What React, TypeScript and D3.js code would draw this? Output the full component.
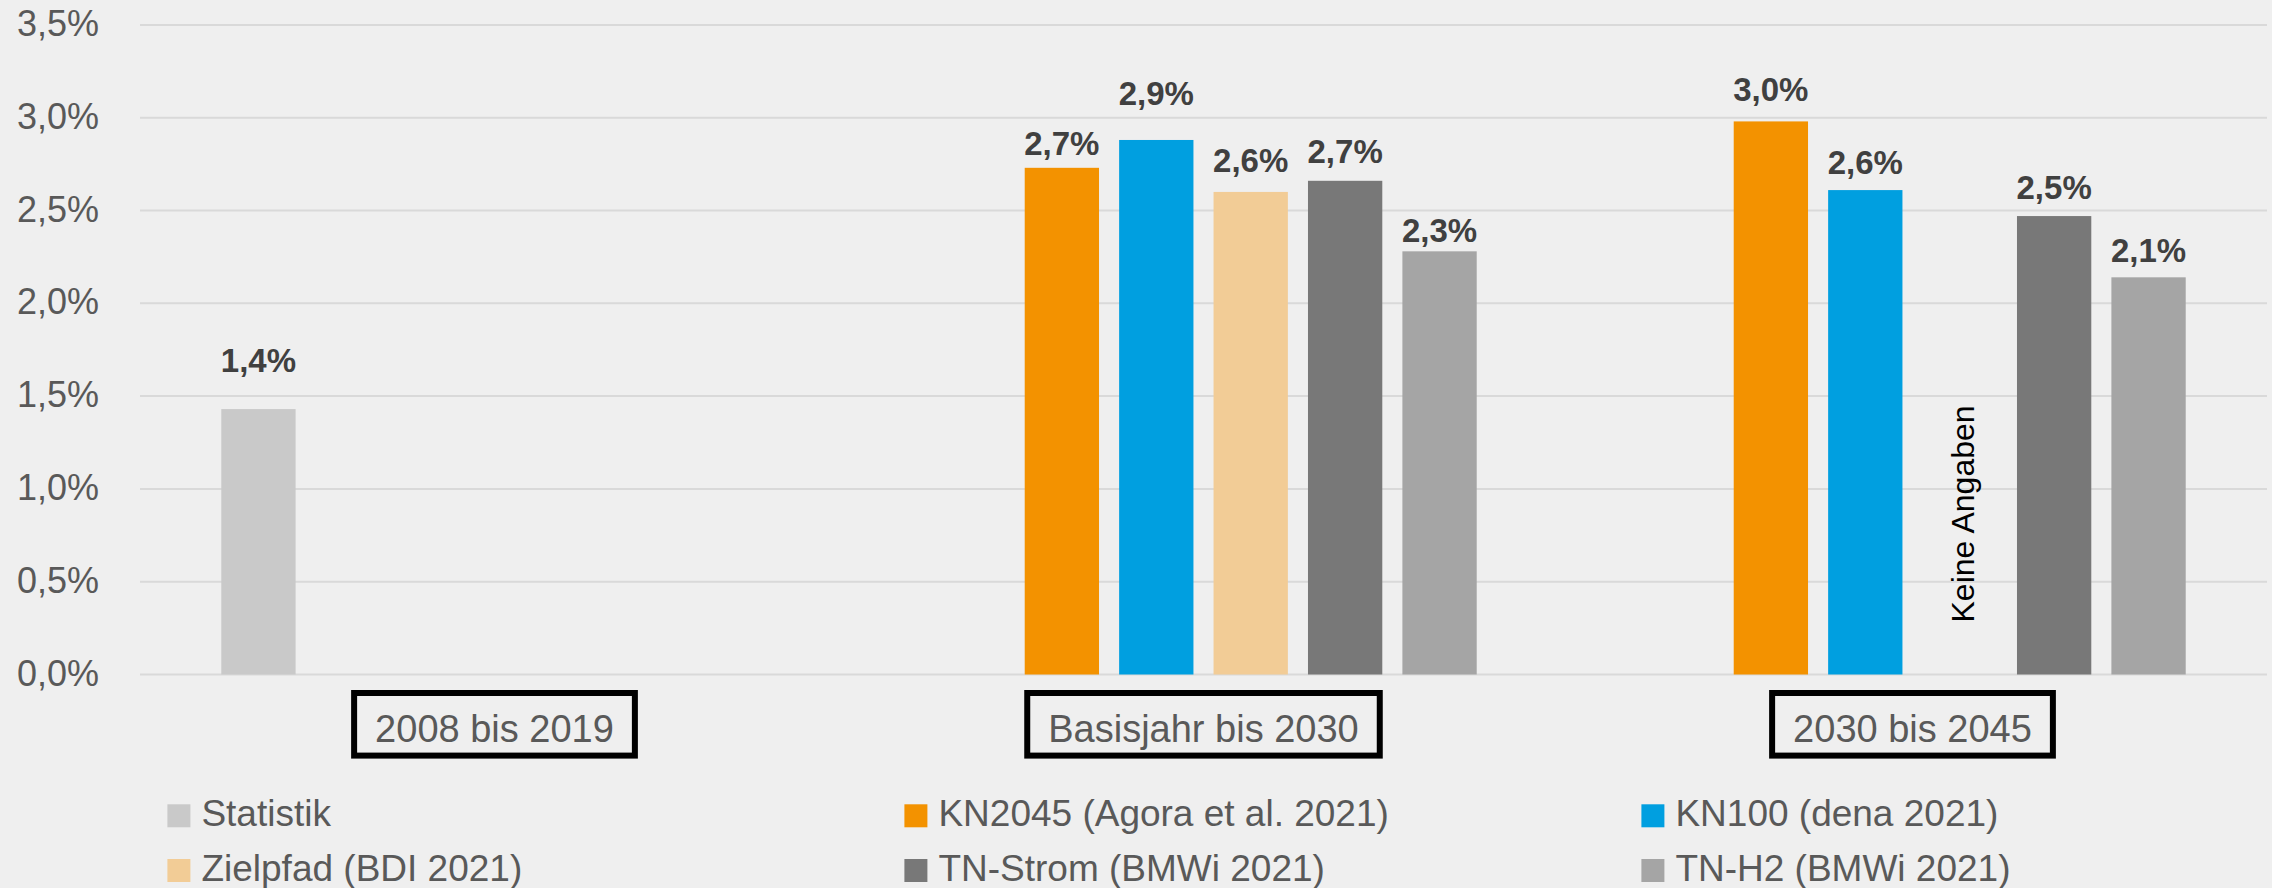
import React, { useEffect, useRef } from 'react'
import * as d3 from 'd3'

// data
const categories = ['2008 bis 2019', 'Basisjahr bis 2030', '2030 bis 2045']
const seriesNames = [
  'Statistik',
  'KN2045 (Agora et al. 2021)',
  'KN100 (dena 2021)',
  'Zielpfad (BDI 2021)',
  'TN-Strom (BMWi 2021)',
  'TN-H2 (BMWi 2021)',
]
const seriesColors = ['#C9C9C9', '#F39200', '#009FE0', '#F2CC96', '#787878', '#A5A5A5']
const statistik = [1.43, null, null]
const kn2045 = [null, 2.73, 2.98]
const kn100 = [null, 2.88, 2.61]
const zielpfad = [null, 2.6, null]
const tnStrom = [null, 2.66, 2.47]
const tnH2 = [null, 2.28, 2.14]
const yTicks = [0, 0.5, 1, 1.5, 2, 2.5, 3, 3.5]
// slots annotated as "no data" (category, series)
const missingNotes = [['2030 bis 2045', 'Zielpfad (BDI 2021)']]
const missingText = 'Keine Angaben'

const seriesValues = [statistik, kn2045, kn100, zielpfad, tnStrom, tnH2]
// label lift above bar top (px), labels were placed by hand in the original
const labelLift = [
  [37, 0, 0],
  [0, 12.5, 20],
  [0, 35, 16],
  [0, 19.7, 0],
  [0, 18, 17.4],
  [0, 9.4, 15.6],
]

const W = 2272
const H = 888
const FONT = "'Liberation Sans', Arial, sans-serif"

const App = () => {
  const chartRef = useRef(null)

  useEffect(() => {
    const svg = d3.select(chartRef.current)
    svg.selectAll('*').remove()
    svg.append('rect').attr('width', W).attr('height', H).attr('fill', '#EFEFEF')

    const yScale = d3.scaleLinear().domain([0, 3.5]).range([674.5, 24.9])
    const x0 = d3.scaleBand().domain(categories).range([140, 2267]).padding(0)
    const x1 = d3
      .scaleBand()
      .domain(seriesNames)
      .range([0, x0.bandwidth()])
      .paddingInner(0.213)
      .paddingOuter(0.861)
    const fmt = (v) => d3.format('.1f')(v).replace('.', ',') + '%'

    // grid + y ticks
    const grid = svg.append('g')
    grid
      .selectAll('line')
      .data(yTicks)
      .join('line')
      .attr('x1', 140)
      .attr('x2', 2267)
      .attr('y1', (d) => yScale(d))
      .attr('y2', (d) => yScale(d))
      .attr('stroke', '#D9D9D9')
      .attr('stroke-width', 2)
    grid
      .selectAll('text')
      .data(yTicks)
      .join('text')
      .attr('x', 99)
      .attr('y', (d) => yScale(d) + 11)
      .attr('text-anchor', 'end')
      .attr('font-family', FONT)
      .attr('font-size', 36)
      .attr('fill', '#595959')
      .text((d) => fmt(d))

    // bars
    const bars = []
    categories.forEach((c, ci) => {
      seriesNames.forEach((s, si) => {
        const value = seriesValues[si][ci]
        if (value !== null)
          bars.push({ cat: c, name: s, color: seriesColors[si], value, lift: labelLift[si][ci] })
      })
    })
    const barGroup = svg.append('g')
    barGroup
      .selectAll('rect')
      .data(bars)
      .join('rect')
      .attr('x', (d) => x0(d.cat) + x1(d.name))
      .attr('width', x1.bandwidth())
      .attr('y', (d) => yScale(d.value))
      .attr('height', (d) => yScale(0) - yScale(d.value))
      .attr('fill', (d) => d.color)
    barGroup
      .selectAll('text.value')
      .data(bars)
      .join('text')
      .attr('class', 'value')
      .attr('x', (d) => x0(d.cat) + x1(d.name) + x1.bandwidth() / 2)
      .attr('y', (d) => yScale(d.value) - d.lift)
      .attr('text-anchor', 'middle')
      .attr('font-family', FONT)
      .attr('font-weight', 'bold')
      .attr('font-size', 33)
      .attr('fill', '#404040')
      .text((d) => fmt(d.value))

    // "Keine Angaben"
    barGroup
      .selectAll('text.missing')
      .data(missingNotes)
      .join('text')
      .attr('class', 'missing')
      .attr('transform', (d) => {
        const cx = x0(d[0]) + x1(d[1]) + x1.bandwidth() / 2 + 14
        return `translate(${cx}, ${yScale(0) - 52}) rotate(-90)`
      })
      .attr('font-family', FONT)
      .attr('font-size', 32)
      .attr('fill', '#000000')
      .text(missingText)

    // category boxes
    const catGroup = svg.append('g')
    categories.forEach((c) => {
      const cx = x0(c) + x0.bandwidth() / 2
      const g = catGroup.append('g')
      const rect = g.append('rect')
      const label = g
        .append('text')
        .attr('x', cx)
        .attr('y', 742)
        .attr('text-anchor', 'middle')
        .attr('font-family', FONT)
        .attr('font-size', 38)
        .attr('fill', '#595959')
        .text(c)
      const tw = label.node().getComputedTextLength()
      const bw = tw + 48
      rect
        .attr('x', cx - bw / 2 + 3)
        .attr('y', 693)
        .attr('width', bw - 6)
        .attr('height', 62.6)
        .attr('fill', 'none')
        .attr('stroke', '#000000')
        .attr('stroke-width', 6)
    })

    // legend
    const legend = svg.append('g')
    const items = legend
      .selectAll('g')
      .data(seriesNames)
      .join('g')
      .attr('transform', (d, i) => `translate(${167.4 + (i % 3) * 737}, ${804.3 + Math.floor(i / 3) * 54.7})`)
    items
      .append('rect')
      .attr('width', 23)
      .attr('height', 23)
      .attr('fill', (d, i) => seriesColors[i])
    items
      .append('text')
      .attr('x', 34)
      .attr('y', 22)
      .attr('font-family', FONT)
      .attr('font-size', 37)
      .attr('fill', '#595959')
      .text((d) => d)
  }, [])

  return (
    <svg
      ref={chartRef}
      width={W}
      height={H}
      style={{ position: 'absolute', left: 0, top: 0, display: 'block' }}
    />
  )
}

export default App
